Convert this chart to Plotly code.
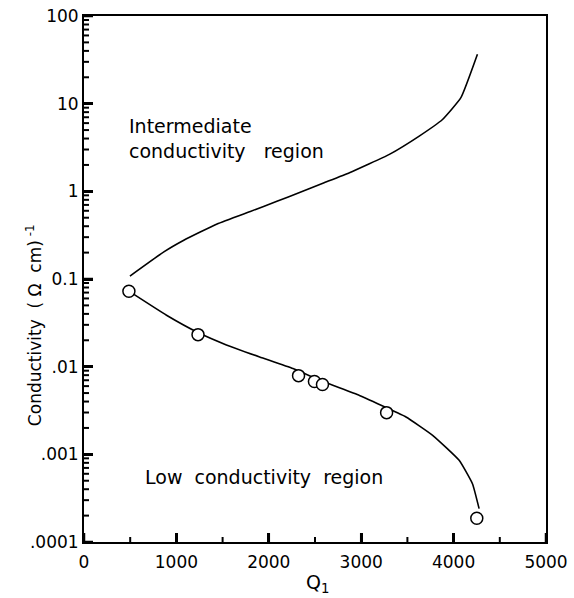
import plotly.graph_objects as go

# Upper boundary curve (intermediate conductivity region)
upper_q = [497, 864, 1080, 1440, 1800, 2088, 2333, 2592, 2873, 3305, 3628, 3880, 4079, 4258]
upper_sigma = [0.108, 0.204, 0.277, 0.425, 0.59, 0.77, 0.97, 1.245, 1.63, 2.64, 4.27, 6.6, 11.7, 36.6]

# Lower boundary curve (low conductivity region)
lower_q = [486, 893, 1234, 1541, 1901, 2261, 2581, 2981, 3275, 3485, 3773, 4060, 4204, 4276]
lower_sigma = [0.0726, 0.0386, 0.0245, 0.0177, 0.0129, 0.0095, 0.0068, 0.0047, 0.0034,
               0.00267, 0.00165, 0.000855, 0.000462, 0.00024]

# Measured points
pts_q = [486, 1234, 2322, 2494, 2581, 3275, 4251]
pts_sigma = [0.0726, 0.0232, 0.0079, 0.00676, 0.00625, 0.00299, 0.000187]

y_tickvals = [0.0001, 0.001, 0.01, 0.1, 1, 10, 100]
y_ticktext = [".0001", ".001", ".01", "0.1", "1", "10", "100"]
x_tickvals = [0, 1000, 2000, 3000, 4000, 5000]
x_minor = [500, 1500, 2500, 3500, 4500]

FONT = "DejaVu Sans"
minor_y = [m * 10 ** e for e in range(-4, 2) for m in range(2, 10)]

fig = go.Figure()
fig.add_trace(go.Scatter(x=upper_q, y=upper_sigma, mode="lines",
                         line=dict(color="black", width=1.6, shape="spline", smoothing=0.4),
                         showlegend=False, hoverinfo="skip"))
fig.add_trace(go.Scatter(x=lower_q, y=lower_sigma, mode="lines",
                         line=dict(color="black", width=1.6, shape="spline", smoothing=0.4),
                         showlegend=False, hoverinfo="skip"))
fig.add_trace(go.Scatter(x=pts_q, y=pts_sigma, mode="markers",
                         marker=dict(symbol="circle", size=12, color="white",
                                     line=dict(color="black", width=1.5)),
                         showlegend=False))

fig.update_xaxes(range=[0, 5000], tickmode="array", tickvals=x_tickvals,
                 ticks="inside", ticklen=9, tickwidth=2.5, tickcolor="#000000",
                 showline=True, linecolor="black", linewidth=2, mirror=True,
                 showgrid=False, zeroline=False, ticklabelstandoff=4,
                 tickfont=dict(family=FONT, size=17, color="black"))
fig.update_yaxes(type="log", range=[-4, 2], tickmode="array", tickvals=y_tickvals,
                 ticktext=y_ticktext, ticks="inside", ticklen=9, tickwidth=2.5,
                 tickcolor="#000000",
                 showline=True, linecolor="black", linewidth=2, mirror=True,
                 showgrid=False, zeroline=False,
                 tickfont=dict(family=FONT, size=17, color="black"))

# Tick marks drawn as pixel-sized shapes anchored on the axes' own scales
tick_shapes = []
for v in x_tickvals:
    tick_shapes.append(dict(type="line", xref="x", yref="paper", x0=v, x1=v,
                            ysizemode="pixel", yanchor=0, y0=0, y1=9,
                            line=dict(color="black", width=2.5)))
for v in x_minor:
    tick_shapes.append(dict(type="line", xref="x", yref="paper", x0=v, x1=v,
                            ysizemode="pixel", yanchor=0, y0=0, y1=5,
                            line=dict(color="black", width=2)))
for v in y_tickvals:
    tick_shapes.append(dict(type="line", yref="y", xref="paper", y0=v, y1=v,
                            xsizemode="pixel", xanchor=0, x0=0, x1=9,
                            line=dict(color="black", width=2.5)))
for v in minor_y:
    tick_shapes.append(dict(type="line", yref="y", xref="paper", y0=v, y1=v,
                            xsizemode="pixel", xanchor=0, x0=0, x1=5,
                            line=dict(color="black", width=2)))
fig.update_layout(shapes=tick_shapes)

ann_font = dict(family=FONT, size=19, color="black")
fig.add_annotation(text="Intermediate", xref="paper", yref="paper", x=0.093, y=0.791,
                   xanchor="left", yanchor="middle", showarrow=False, font=ann_font)
fig.add_annotation(text="conductivity\u00a0\u00a0\u00a0region", xref="paper", yref="paper",
                   x=0.093, y=0.743, xanchor="left", yanchor="middle", showarrow=False,
                   font=ann_font)
fig.add_annotation(text="Low\u00a0\u00a0conductivity\u00a0\u00a0region", xref="paper", yref="paper",
                   x=0.1277, y=0.1236, xanchor="left", yanchor="middle", showarrow=False,
                   font=ann_font)
fig.add_annotation(text="Conductivity\u00a0\u00a0(\u00a0\u03a9\u00a0\u00a0cm)<sup>\u00a0-1</sup>",
                   xref="paper", yref="paper",
                   x=-0.108, y=0.4125, xanchor="center", yanchor="middle", textangle=-90,
                   showarrow=False, font=dict(family=FONT, size=17, color="black"))
fig.add_annotation(text="Q<sub>1</sub>", xref="paper", yref="paper", x=0.506, y=-0.078,
                   xanchor="center", yanchor="middle", showarrow=False,
                   font=dict(family=FONT, size=19, color="black"))

fig.update_layout(width=574, height=598, margin=dict(l=84, r=28, t=16, b=56),
                  plot_bgcolor="white", paper_bgcolor="white", template="none")

fig.write_html("out.html")
